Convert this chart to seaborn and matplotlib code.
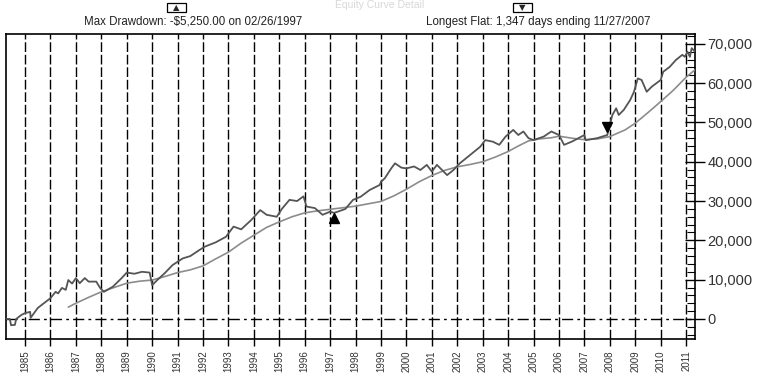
import numpy as np
import pandas as pd
import matplotlib
matplotlib.use("Agg")
import matplotlib.pyplot as plt
import matplotlib.ticker as mticker
import matplotlib.patches as mpatches
import seaborn as sns

# equity curve (decimal year, net profit $)
equity_years = [
    1984.25, 1984.40, 1984.45, 1984.60, 1984.65, 1984.85, 1985.00, 1985.20, 1985.22, 1985.50,
    1985.80, 1986.00, 1986.20, 1986.30, 1986.45, 1986.60, 1986.70, 1986.85, 1987.00, 1987.15,
    1987.35, 1987.50, 1987.80, 1987.95, 1988.10, 1988.45, 1988.80, 1989.00, 1989.30, 1989.60,
    1989.90, 1990.00, 1990.20, 1990.50, 1990.80, 1991.20, 1991.50, 1991.80, 1992.07, 1992.50,
    1992.90, 1993.20, 1993.50, 1993.90, 1994.25, 1994.50, 1994.90, 1995.10, 1995.40, 1995.70,
    1995.95, 1996.07, 1996.40, 1996.70, 1997.00, 1997.15, 1997.30, 1997.60, 1997.90, 1998.20,
    1998.55, 1998.95, 1999.00, 1999.15, 1999.40, 1999.55, 1999.80, 2000.00, 2000.30, 2000.55,
    2000.80, 2001.00, 2001.20, 2001.40, 2001.60, 2001.85, 2002.10, 2002.50, 2002.90, 2003.10,
    2003.40, 2003.65, 2003.90, 2004.20, 2004.40, 2004.60, 2004.80, 2005.00, 2005.40, 2005.70,
    2006.00, 2006.20, 2006.50, 2007.00, 2007.05, 2007.50, 2007.90, 2008.10, 2008.25, 2008.35,
    2008.55, 2008.80, 2008.95, 2009.10, 2009.25, 2009.45, 2009.65, 2010.00, 2010.10, 2010.35,
    2010.60, 2010.85, 2010.95, 2011.05, 2011.15, 2011.22, 2011.35,
]
equity_values = [
    0, 0, -1600, -1500, 0, 1000, 1500, 1800, 300, 2800,
    4300, 5300, 6900, 6500, 7900, 7400, 9900, 9000, 10400, 9100,
    10400, 9500, 9500, 7900, 6900, 8200, 10400, 11800, 11500, 12000,
    11800, 8600, 9900, 11700, 13700, 15400, 16000, 17300, 18400, 19500,
    20900, 23500, 22800, 25200, 27700, 26500, 26000, 28000, 30300, 30000,
    31200, 28600, 28200, 26500, 27300, 27000, 27300, 28000, 30300, 31100,
    32800, 34100, 34900, 35800, 38300, 39600, 38500, 38300, 38800, 37900,
    39200, 37500, 39200, 37900, 36600, 37900, 39600, 41700, 43800, 45500,
    45100, 44300, 46400, 48100, 46800, 47700, 46000, 45500, 46400, 47700,
    46800, 44300, 45100, 46800, 45500, 46000, 46800, 51900, 53600, 51900,
    53200, 55700, 57800, 61200, 60800, 57800, 59100, 60800, 62900, 64100,
    65900, 67200, 66700, 68000, 66700, 68900, 68000,
]

# moving average of the equity curve
ma_years = [
    1986.7, 1987.0, 1987.5, 1988.0, 1988.5, 1989.0, 1989.5, 1990.0, 1990.5, 1991.0,
    1991.5, 1992.0, 1992.5, 1993.0, 1993.5, 1994.0, 1994.5, 1995.0, 1995.5, 1996.0,
    1996.5, 1997.0, 1997.5, 1998.0, 1998.5, 1999.0, 1999.5, 2000.0, 2000.5, 2001.0,
    2001.5, 2002.0, 2002.5, 2003.0, 2003.5, 2004.0, 2004.4, 2004.8, 2005.2, 2005.7,
    2006.0, 2006.5, 2007.0, 2007.5, 2008.0, 2008.6, 2009.0, 2009.5, 2010.0, 2010.5,
    2011.0, 2011.35,
]
ma_values = [
    3000, 4000, 5500, 6900, 8000, 9100, 9600, 9900, 10800, 11800,
    12500, 13500, 15300, 17000, 19300, 21300, 23300, 24700, 26000, 27000,
    27500, 27900, 28300, 28700, 29300, 29900, 31300, 33000, 34900, 36500,
    37800, 38700, 39300, 40000, 41200, 42600, 44000, 45300, 45800, 46100,
    46500, 46000, 45600, 45800, 46400, 48100, 49800, 52500, 55300, 58200,
    61500, 63400,
]

year_ticks = list(range(1985, 2012))
y_ticks = list(range(0, 70001, 10000))

max_dd_point = (1997.15, 25600)
flat_point = (2007.9, 48900)

title_text = "Equity Curve Detail"
max_dd_text = "Max Drawdown: -$5,250.00 on 02/26/1997"
flat_text = "Longest Flat: 1,347 days ending 11/27/2007"

sns.set_theme(style="white")
plt.rcParams["font.family"] = ["Liberation Sans", "DejaVu Sans"]

eq_df = pd.DataFrame({"year": equity_years, "value": equity_values})
ma_df = pd.DataFrame({"year": ma_years, "value": ma_values})

W, H = 763, 379
fig = plt.figure(figsize=(W / 100, H / 100), dpi=100)
ax = fig.add_axes([6 / W, 40 / H, 689 / W, 305 / H])

# grid first so the curves sit on top
for yr in year_ticks:
    ax.axvline(yr, color="black", lw=1.0, linestyle=(0, (7, 2)), zorder=1)
ax.axhline(0, color="black", lw=1.0, linestyle=(0, (8, 3, 2, 3)), zorder=1)

sns.lineplot(data=ma_df, x="year", y="value", ax=ax, color="#8c8c8c",
             lw=1.2, estimator=None, sort=False, zorder=3)
sns.lineplot(data=eq_df, x="year", y="value", ax=ax, color="#555555",
             lw=1.3, estimator=None, sort=False, zorder=4)

ax.plot(*max_dd_point, marker="^", color="black", markersize=7, zorder=5)
ax.plot(*flat_point, marker="v", color="black", markersize=7, zorder=5)

ax.set_xlim(1984.25, 2011.35)
ax.set_ylim(-5100, 72500)
ax.set_xlabel("")
ax.set_ylabel("")

ax.set_xticks(year_ticks)
ax.set_xticklabels([str(y) for y in year_ticks], rotation=90, fontsize=7, color="#333333")
ax.tick_params(axis="x", direction="out", length=5, width=1, color="black", pad=3, bottom=True)

ax.yaxis.tick_right()
ax.set_yticks(y_ticks)
ax.yaxis.set_minor_locator(mticker.MultipleLocator(2000))
ax.yaxis.set_major_formatter(mticker.FuncFormatter(lambda v, p: f"{int(v):,}"))
ax.tick_params(axis="y", which="major", direction="inout", length=14, width=1,
               color="black", labelsize=10.5, labelcolor="#333333", pad=2, right=True)
ax.tick_params(axis="y", which="minor", direction="in", length=6, width=0.8,
               color="black", right=True)

for sp in ax.spines.values():
    sp.set_color("black")
    sp.set_linewidth(1.2)

# header: faint title, then the two annotations with their small icon boxes
fig.text(380 / W, 1.0, title_text, ha="center", va="top", fontsize=7.5, color="#d8d8d8")

for cx, sym in [(176, "\u25b2"), (522, "\u25bc")]:
    fig.add_artist(mpatches.Rectangle(((cx - 9.5) / W, 1 - 12 / H), 19 / W, 9 / H,
                                      transform=fig.transFigure, fc="white",
                                      ec="black", lw=0.9))
    fig.text(cx / W, 1 - 7.5 / H, sym, ha="center", va="center", fontsize=6,
             family=["DejaVu Sans"])

fig.text(193 / W, 1 - 22 / H, max_dd_text, ha="center", va="center",
         fontsize=8.3, color="#222222")
fig.text(538 / W, 1 - 22 / H, flat_text, ha="center", va="center",
         fontsize=8.3, color="#222222")

fig.savefig("out.png", dpi=100)
